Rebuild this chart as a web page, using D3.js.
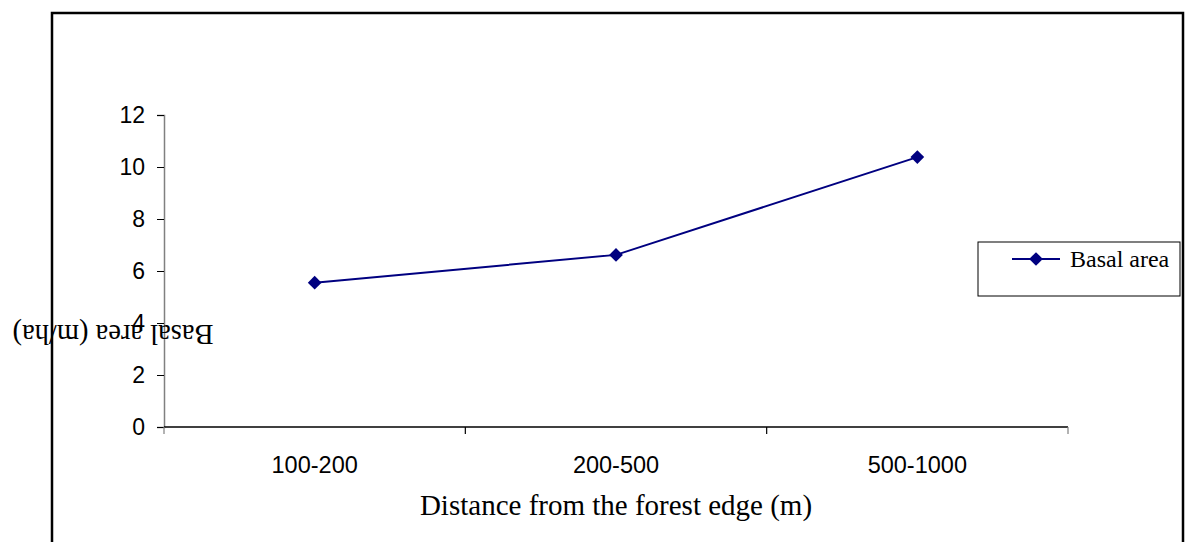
<!DOCTYPE html>
<html>
<head>
<meta charset="utf-8">
<script src="https://cdn.jsdelivr.net/npm/d3@7"></script>
<style>
  body { margin: 0; background: #fff; }
  svg { display: block; }
</style>
</head>
<body>
<script>
// data
var categories = ["100-200", "200-500", "500-1000"];
var basalArea = [5.55, 6.62, 10.38];
var yTicks = [0, 2, 4, 6, 8, 10, 12];
var seriesName = "Basal area";

var width = 1185, height = 542;
var sans = "Liberation Sans, Arial, sans-serif";
var serif = "Liberation Serif, Times New Roman, serif";

var svg = d3.select("body").append("svg")
    .attr("width", width)
    .attr("height", height);

// outer frame of the chart area
svg.append("rect")
    .attr("x", 52).attr("y", 13)
    .attr("width", 1131).attr("height", 560)
    .attr("fill", "none")
    .attr("stroke", "#000")
    .attr("stroke-width", 2.5);

var plot = { left: 164, right: 1068, top: 115, bottom: 427 };

var x = d3.scaleBand()
    .domain(categories)
    .range([plot.left, plot.right]);

var y = d3.scaleLinear()
    .domain([0, 12])
    .range([plot.bottom, plot.top]);

// y axis
var yAxis = svg.append("g")
    .attr("transform", "translate(" + plot.left + ",0)")
    .call(d3.axisLeft(y).tickValues(yTicks).tickSize(7).tickPadding(12));
yAxis.select(".domain").attr("stroke", "#808080").attr("stroke-width", 1.5);
yAxis.selectAll(".tick line").attr("stroke", "#000");
yAxis.selectAll("text")
    .attr("font-family", sans)
    .attr("font-size", 23)
    .attr("fill", "#000");

// x axis, ticks on the band edges
var xAxis = svg.append("g")
    .attr("transform", "translate(0," + plot.bottom + ")");
xAxis.append("line")
    .attr("x1", plot.left).attr("x2", plot.right)
    .attr("stroke", "#000").attr("stroke-width", 1.5);
var edges = categories.map(function (c) { return x(c); }).concat([plot.right]);
xAxis.selectAll(".edge")
    .data(edges)
    .enter().append("line")
    .attr("class", "edge")
    .attr("x1", function (d) { return d; })
    .attr("x2", function (d) { return d; })
    .attr("y1", 0).attr("y2", 7)
    .attr("stroke", function (d, i) { return i === 0 || i === edges.length - 1 ? "#808080" : "#000"; })
    .attr("stroke-width", 1.2);
xAxis.selectAll(".lbl")
    .data(categories)
    .enter().append("text")
    .attr("class", "lbl")
    .attr("x", function (d) { return x(d) + x.bandwidth() / 2; })
    .attr("y", 46)
    .attr("text-anchor", "middle")
    .attr("font-family", sans)
    .attr("font-size", 23.5)
    .text(function (d) { return d; });

// axis titles
svg.append("text")
    .attr("x", 616).attr("y", 515)
    .attr("text-anchor", "middle")
    .attr("font-family", serif)
    .attr("font-size", 29)
    .text("Distance from the forest edge (m)");

// the y title is drawn upside down in the original
svg.append("text")
    .attr("transform", "translate(113,325) rotate(180)")
    .attr("text-anchor", "middle")
    .attr("font-family", serif)
    .attr("font-size", 28.5)
    .text("Basal area (m/ha)");

// series line
var pts = categories.map(function (c, i) { return { c: c, v: basalArea[i] }; });
var line = d3.line()
    .x(function (d) { return x(d.c) + x.bandwidth() / 2; })
    .y(function (d) { return y(d.v); });

svg.append("path")
    .datum(pts)
    .attr("d", line)
    .attr("fill", "none")
    .attr("stroke", "#000080")
    .attr("stroke-width", 2);

var diamond = d3.symbol().type(d3.symbolDiamond2).size(120);
svg.selectAll(".pt")
    .data(pts)
    .enter().append("path")
    .attr("class", "pt")
    .attr("transform", function (d) {
        return "translate(" + (x(d.c) + x.bandwidth() / 2) + "," + y(d.v) + ")";
    })
    .attr("d", diamond)
    .attr("fill", "#000080");

// legend
var lg = svg.append("g").attr("transform", "translate(978,242)");
lg.append("rect")
    .attr("width", 202).attr("height", 54)
    .attr("fill", "#fff")
    .attr("stroke", "#000").attr("stroke-width", 1);
lg.append("line")
    .attr("x1", 34).attr("x2", 82)
    .attr("y1", 17).attr("y2", 17)
    .attr("stroke", "#000080").attr("stroke-width", 2);
lg.append("path")
    .attr("transform", "translate(58,17)")
    .attr("d", diamond)
    .attr("fill", "#000080");
lg.append("text")
    .attr("x", 92).attr("y", 25)
    .attr("font-family", serif)
    .attr("font-size", 24)
    .text(seriesName);
</script>
</body>
</html>
